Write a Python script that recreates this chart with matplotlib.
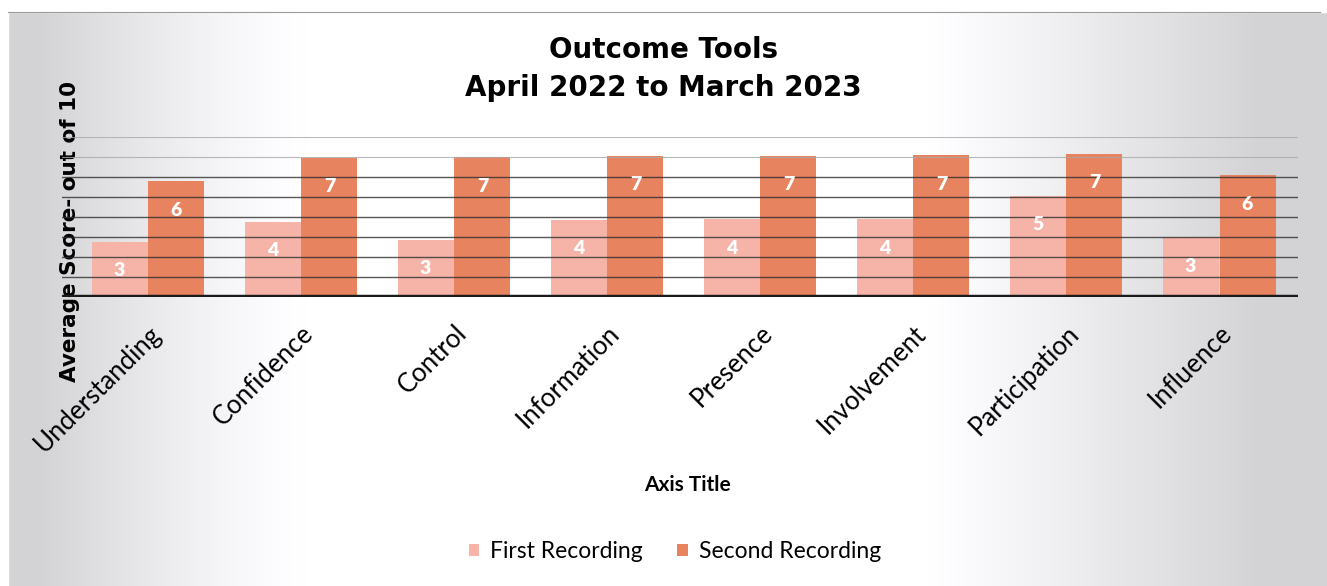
import numpy as np
import matplotlib
matplotlib.use('Agg')
import matplotlib.pyplot as plt
from matplotlib.patches import Rectangle

categories = ['Understanding', 'Confidence', 'Control', 'Information',
              'Presence', 'Involvement', 'Participation', 'Influence']
first_recording = [2.75, 3.75, 2.85, 3.85, 3.9, 3.9, 5.05, 3.0]
second_recording = [5.8, 6.95, 7.0, 7.05, 7.05, 7.1, 7.15, 6.1]
series_names = ['First Recording', 'Second Recording']

FIRST_COLOR = '#F6B4A9'
SECOND_COLOR = '#E8835F'

fig = plt.figure(figsize=(13.27, 5.86), dpi=100)

# paper-like backdrop: grey at the edges, white in the middle
bg = fig.add_axes([0, 0, 1, 1], zorder=-10)
xs = np.linspace(0, 1, 400)
left = np.clip(1 - (xs - 0.03) / 0.2, 0, 1) ** 1.3
right = np.clip((xs - 0.70) / 0.25, 0, 1) ** 1.1
shade = 1 - 0.17 * np.maximum(left, right)
grad = np.tile(shade, (2, 1))
bg.imshow(np.dstack([grad, grad, grad * 1.012]).clip(0, 1),
          aspect='auto', extent=[0, 1, 0, 1], interpolation='bilinear')
bg.add_patch(Rectangle((0, 0), 0.006, 1, color='white'))
bg.add_patch(Rectangle((0, 0.98), 1, 0.02, color='white'))
bg.plot([0.006, 0.995], [0.98, 0.98], color='#9a9a9a', lw=0.8)
bg.set_xlim(0, 1)
bg.set_ylim(0, 1)
bg.axis('off')

ax = fig.add_axes([62 / 1327, 289 / 586, 1236 / 1327, 160 / 586])
ax.patch.set_alpha(0)

x = np.arange(len(categories))
w = 0.366
b1 = ax.bar(x - w / 2 - 0.003, first_recording, w, color=FIRST_COLOR,
            label=series_names[0], zorder=2)
b2 = ax.bar(x + w / 2 + 0.003, second_recording, w, color=SECOND_COLOR,
            label=series_names[1], zorder=2)

# value labels sit just inside the top of each bar
for bars, vals in ((b1, first_recording), (b2, second_recording)):
    for rect, v in zip(bars, vals):
        ax.annotate(f'{v:.0f}', (rect.get_x() + rect.get_width() / 2, v),
                    xytext=(0, -29), textcoords='offset pixels',
                    ha='center', va='center', color='white',
                    fontsize=14, fontweight='heavy', family='Lato', zorder=4)

# gridlines drawn across the bars
for g in range(1, 9):
    col = '#2e2e2e' if g <= 6 else '#a8a8a8'
    lw = 1.0 if g <= 6 else 0.8
    ax.axhline(g, color=col, lw=lw, alpha=0.8, zorder=3)
ax.axhline(0, color='#1a1a1a', lw=3.2, zorder=5)

ax.set_ylim(0, 8)
ax.set_xlim(-0.562, 7.516)
ax.set_yticks([])
for s in ax.spines.values():
    s.set_visible(False)
ax.set_xticks(x)
ax.set_xticklabels(categories, rotation=45, ha='right', rotation_mode='anchor',
                   fontsize=18.5, family='Lato')
ax.tick_params(axis='x', length=0, pad=17)

ax.set_ylabel('Average Score- out of 10', fontsize=15.5, fontweight='bold',
              family='DejaVu Sans')
ax.yaxis.set_label_coords(0.0146, 0.41)

fig.text(0.5, 1 - 50 / 586, 'Outcome Tools', ha='center', va='center',
         fontsize=20, fontweight='bold', family='DejaVu Sans')
fig.text(0.5, 1 - 88 / 586, 'April 2022 to March 2023', ha='center',
         va='center', fontsize=20, fontweight='bold', family='DejaVu Sans')
fig.text(687 / 1327, 1 - 485 / 586, 'Axis Title', ha='center', va='center',
         fontsize=15, fontweight='bold', family='Lato')

fig.legend(handles=[b1, b2], labels=series_names, loc='center',
           bbox_to_anchor=(675 / 1327, 1 - 552 / 586), ncol=2, frameon=False,
           prop={'family': 'Lato', 'size': 16.5}, handlelength=0.45,
           handleheight=0.45, handletextpad=0.5, columnspacing=1.5)

fig.savefig('out.png', dpi=100)
